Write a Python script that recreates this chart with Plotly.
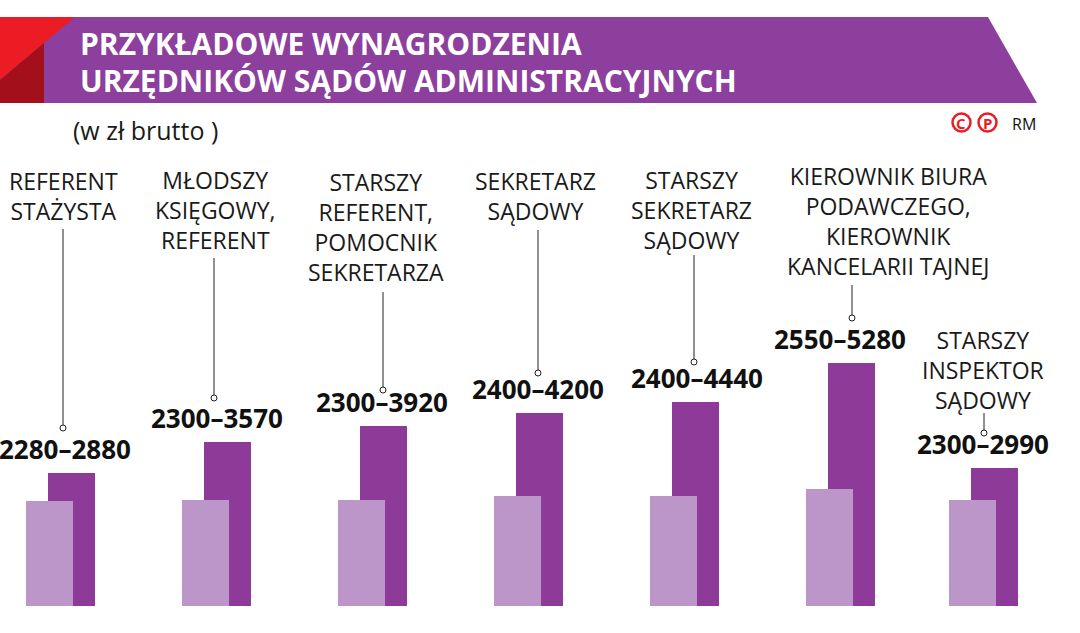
import plotly.graph_objects as go

# ---------------- data ----------------
categories = [
    ["REFERENT", "STAŻYSTA"],
    ["MŁODSZY", "KSIĘGOWY,", "REFERENT"],
    ["STARSZY", "REFERENT,", "POMOCNIK", "SEKRETARZA"],
    ["SEKRETARZ", "SĄDOWY"],
    ["STARSZY", "SEKRETARZ", "SĄDOWY"],
    ["KIEROWNIK BIURA", "PODAWCZEGO,", "KIEROWNIK", "KANCELARII TAJNEJ"],
    ["STARSZY", "INSPEKTOR", "SĄDOWY"],
]
salary_min = [2280, 2300, 2300, 2400, 2400, 2550, 2300]
salary_max = [2880, 3570, 3920, 4200, 4440, 5280, 2990]

title_lines = ["PRZYKŁADOWE WYNAGRODZENIA", "URZĘDNIKÓW SĄDÓW ADMINISTRACYJNYCH"]
subtitle = "(w zł brutto )"

# ---------------- layout constants ----------------
W, H = 1080, 633
PLOT_BOTTOM = 606           # pixel row of the bar baseline
GROUP_STEP = 156.0          # px between group centers
FIRST_CENTER = 60.5         # px of first group center
group_pos = [0, 1, 2, 3, 4, 5, 5.917]

DARK = "#8E3A98"
LIGHT = "#BC96C8"
BANNER = "#8C3F9C"
RED = "#EC1C24"
DARKRED = "#A3101B"

# label layout (pixels)
label_cx = [63, 215, 376, 535, 691, 888, 983]
label_first_y = [181, 181, 183, 181, 181, 177, 341]
LINE_GAP = 29
value_cx = [65, 217, 382, 538, 697, 840, 983]
leader_x = [63, 214, 383, 538, 694, 852, 984]
leader_top = [229, 258, 292, 230, 255, 285, 413]
leader_circle = [428, 398, 390, 373, 362, 318, 433]


def px(x):
    return x / W


def py(y):
    return (PLOT_BOTTOM - y) / PLOT_BOTTOM


def path(points):
    s = "M " + " L ".join(f"{px(a):.5f},{py(b):.5f}" for a, b in points)
    return s + " Z"


fig = go.Figure()

bw = 47 / GROUP_STEP
fig.add_trace(go.Bar(
    x=group_pos, y=salary_max, marker=dict(color=DARK, line=dict(width=0)),
    width=bw, offset=-12.5 / GROUP_STEP, hoverinfo="skip", showlegend=False,
))
fig.add_trace(go.Bar(
    x=group_pos, y=salary_min, marker=dict(color=LIGHT, line=dict(width=0)),
    width=bw, offset=-34.5 / GROUP_STEP, hoverinfo="skip", showlegend=False,
))

shapes = []
annotations = []

# banner
shapes.append(dict(type="path", xref="paper", yref="paper",
                   path=path([(0, 17), (988, 17), (1037, 103), (0, 103)]),
                   fillcolor=BANNER, line=dict(width=0), layer="below"))
shapes.append(dict(type="path", xref="paper", yref="paper",
                   path=path([(0, 17), (75, 17), (0, 80)]),
                   fillcolor=RED, line=dict(width=0), layer="below"))
shapes.append(dict(type="path", xref="paper", yref="paper",
                   path=path([(0, 80), (44, 43), (44, 103), (0, 103)]),
                   fillcolor=DARKRED, line=dict(width=0), layer="below"))

for i, t in enumerate(title_lines):
    annotations.append(dict(
        text=f"<b>{t}</b>", xref="paper", yref="paper", x=px(78), y=py(43 + i * 37),
        xanchor="left", yanchor="middle", showarrow=False,
        font=dict(family="Open Sans", size=30, color="white")))

annotations.append(dict(
    text=subtitle, xref="paper", yref="paper", x=px(71), y=py(130),
    xanchor="left", yanchor="middle", showarrow=False,
    font=dict(family="Open Sans", size=25, color="#1a1a1a")))

# logo
for cx, ch in [(961.5, "C"), (987.5, "P")]:
    shapes.append(dict(type="circle", xref="paper", yref="paper",
                       x0=px(cx - 9), x1=px(cx + 9), y0=py(122.5 + 9), y1=py(122.5 - 9),
                       line=dict(color=RED, width=2.5), fillcolor="rgba(0,0,0,0)"))
    annotations.append(dict(text=f"<b>{ch}</b>", xref="paper", yref="paper",
                            x=px(cx), y=py(123), xanchor="center", yanchor="middle",
                            showarrow=False, font=dict(family="Open Sans", size=15, color=RED)))
annotations.append(dict(text="RM", xref="paper", yref="paper", x=px(1010), y=py(124),
                        xanchor="left", yanchor="middle", showarrow=False,
                        font=dict(family="Open Sans", size=16, color="#111")))

# categories, leaders, values
for i in range(len(categories)):
    n = len(categories[i])
    annotations.append(dict(
        text="<br>".join(categories[i]), xref="paper", yref="paper", x=px(label_cx[i]),
        y=py(label_first_y[i] + (n - 1) * LINE_GAP / 2),
        xanchor="center", yanchor="middle", align="center", showarrow=False,
        font=dict(family="Open Sans", size=23, color="#1a1a1a")))
    shapes.append(dict(type="line", xref="paper", yref="paper",
                       x0=px(leader_x[i]), x1=px(leader_x[i]),
                       y0=py(leader_top[i]), y1=py(leader_circle[i] - 3),
                       line=dict(color="#222", width=1)))
    shapes.append(dict(type="circle", xref="paper", yref="paper",
                       x0=px(leader_x[i] - 3), x1=px(leader_x[i] + 3),
                       y0=py(leader_circle[i] + 3), y1=py(leader_circle[i] - 3),
                       line=dict(color="#222", width=1), fillcolor="white"))
    annotations.append(dict(
        text=f"<b>{salary_min[i]}–{salary_max[i]}</b>", xref="paper", yref="y",
        x=px(value_cx[i]), y=salary_max[i], yshift=24,
        xanchor="center", yanchor="middle", showarrow=False,
        font=dict(family="Open Sans", size=26, color="#111")))

y_scale = 0.04602  # px per zł
fig.update_layout(
    width=W, height=H,
    margin=dict(l=0, r=0, t=0, b=H - PLOT_BOTTOM, pad=0),
    paper_bgcolor="white", plot_bgcolor="white",
    barmode="overlay", bargap=0,
    xaxis=dict(range=[-FIRST_CENTER / GROUP_STEP, (W - FIRST_CENTER) / GROUP_STEP],
               visible=False, fixedrange=True),
    yaxis=dict(range=[0, PLOT_BOTTOM / y_scale], visible=False, fixedrange=True),
    shapes=shapes, annotations=annotations, showlegend=False,
)

fig.write_html("out.html")
